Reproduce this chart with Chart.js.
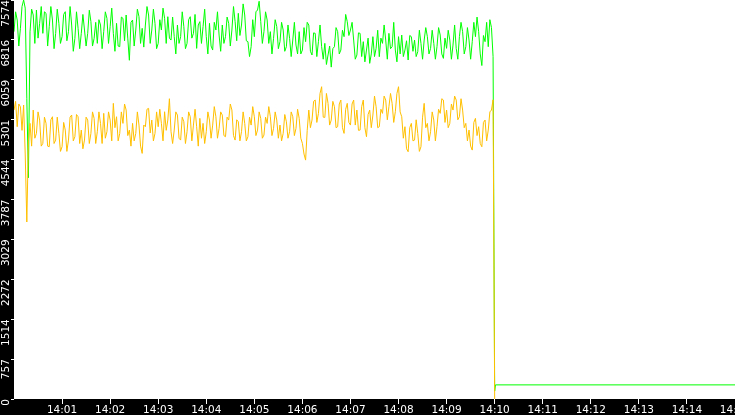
<!DOCTYPE html>
<html>
<head>
<meta charset="utf-8">
<script src="https://cdn.jsdelivr.net/npm/chart.js@4.4.1/dist/chart.umd.min.js"></script>
<style>
  html, body { margin: 0; padding: 0; background: #000; }
  canvas { display: block; }
</style>
</head>
<body>
<canvas id="rateChart" width="735" height="415"></canvas>
<script>
// seconds after 14:00:00, one sample every 2 s
const sampleStep = 2;

const greenValues = [
  6973, 7350, 7194, 6700, 7036, 7450, 7574, 7420, 5700, 4200,
  6970, 7400, 7289, 6750, 7384, 6850, 7131, 7450, 6941, 7350,
  7321, 6700, 7068, 7450, 7194, 6650, 6941, 7400, 7131, 6750,
  6878, 7300, 7352, 6800, 6973, 7450, 7099, 6600, 6846, 7350,
  7036, 6650, 6941, 7300, 7004, 6700, 6941, 7380, 7163, 6700,
  6846, 7150, 6751, 7200, 7099, 6650, 6973, 7350, 7226, 6750,
  7068, 7420, 6941, 6600, 7131, 6700, 6688, 7250, 7226, 6800,
  7289, 6850, 6430, 7150, 7194, 6700, 7004, 7400, 7257, 6750,
  7036, 6680, 7099, 7450, 7289, 6750, 7004, 7400, 7131, 6650,
  6751, 7200, 7004, 7420, 7226, 6750, 7257, 6850, 6814, 7250,
  6878, 6550, 7099, 6750, 6878, 7350, 7068, 6650, 6751, 7200,
  7257, 6850, 6941, 7300, 6656, 7100, 7163, 6750, 7068, 7400,
  6878, 6550, 7131, 6700, 6624, 7150, 7004, 7350, 6909, 6600,
  7099, 6750, 6878, 7250, 7131, 6700, 7004, 7450, 7163, 6800,
  7321, 6900, 7099, 7500, 7289, 6800, 6783, 6500, 6688, 7200,
  6878, 7350, 7384, 7550, 7163, 6750, 6973, 7350, 7194, 6750,
  6973, 6550, 6846, 7200, 7068, 6650, 6783, 7150, 7004, 6600,
  6688, 7100, 6846, 6500, 6814, 7150, 6719, 6550, 6973, 6550,
  6624, 7050, 6783, 7150, 7099, 6600, 6530, 6950, 6941, 6500,
  6783, 7100, 6688, 6450, 6751, 6350, 6530, 6700, 6300, 6650,
  6688, 7050, 6973, 6550, 6624, 7000, 6878, 7300, 7163, 6900,
  7004, 7150, 6814, 6450, 6530, 6950, 6941, 6500, 6783, 6400,
  6624, 6850, 6371, 6550, 6878, 6500, 6656, 7000, 6498, 6850,
  6751, 7100, 6814, 6450, 6941, 6650, 6688, 7150, 6624, 6400,
  6878, 6550, 6909, 6500, 6624, 6800, 6435, 6900, 6878, 6600,
  6814, 6500, 6593, 7000, 6751, 6450, 6814, 7050, 6878, 6550,
  6656, 7000, 6751, 6450, 6688, 7050, 6909, 6550, 6466, 6850,
  6656, 7000, 6814, 6450, 6719, 7100, 6656, 6450, 6878, 7150,
  6973, 6550, 6688, 7050, 6814, 6450, 6783, 7150, 6878, 7250,
  6973, 6550, 6330, 6900, 6783, 7150, 6688, 7200, 7050, 6500
];

const orangeValues = [
  5485, 5650, 5169, 5600, 5548, 5100, 5580, 4650, 3360, 4900,
  5232, 4800, 5485, 4950, 5042, 5450, 5295, 4800, 4852, 5350,
  5232, 4800, 4789, 5300, 5358, 4850, 4915, 5350, 5042, 4700,
  4789, 5250, 5105, 4700, 4915, 5350, 5390, 4900, 4979, 5400,
  5358, 4850, 5105, 4750, 4915, 5350, 5295, 4850, 5042, 5450,
  5327, 4850, 5074, 5450, 5232, 4850, 5422, 4950, 5074, 5450,
  5295, 4900, 5612, 5150, 5358, 4900, 5042, 5450, 5232, 5600,
  5485, 5000, 5105, 4800, 5232, 4900, 5042, 5450, 5200, 4800,
  4662, 5200, 5169, 5500, 5517, 5050, 5295, 4900, 5042, 5450,
  5169, 5500, 5232, 4900, 5453, 5100, 5295, 5700, 5074, 4850,
  5105, 5450, 5390, 4950, 4915, 5350, 5263, 4850, 5074, 5450,
  5358, 4900, 5200, 5500, 5169, 4800, 5327, 4950, 5232, 4850,
  5074, 5450, 5295, 4950, 5200, 5550, 5358, 4950, 5137, 5450,
  5390, 5000, 4979, 5350, 5295, 5600, 5485, 5000, 4915, 5300,
  5263, 4900, 5074, 5450, 5232, 4900, 4979, 5350, 5200, 5550,
  5358, 5000, 5105, 5450, 5327, 4950, 5010, 5350, 5232, 5550,
  5358, 5000, 5137, 5450, 5295, 4950, 5200, 4900, 5042, 5400,
  5263, 4950, 5074, 5450, 5358, 5000, 5137, 5500, 5327, 4950,
  4852, 4650, 4535, 5100, 5485, 5150, 5295, 5650, 5675, 5250,
  5422, 5800, 5928, 5350, 5345, 5800, 5612, 5200, 5295, 5650,
  5548, 5150, 5169, 5600, 5675, 5150, 5042, 5500, 5612, 5250,
  5200, 5600, 5675, 5200, 5485, 5100, 5105, 5550, 5675, 5150,
  4979, 5400, 5485, 5150, 5390, 5750, 5548, 5150, 5169, 5500,
  5422, 5750, 5675, 5300, 5548, 5800, 5612, 5250, 5453, 5800,
  5928, 5450, 5358, 4950, 5169, 4750, 4694, 5150, 5232, 4900,
  4915, 5300, 5042, 4700, 4789, 5350, 5612, 5150, 5232, 4900,
  5074, 5450, 5295, 4900, 5169, 5500, 5422, 5700, 5675, 5250,
  5485, 5150, 5232, 5600, 5485, 5750, 5675, 5300, 5358, 5700,
  5485, 5150, 5232, 4900, 5105, 4800, 4725, 5250, 5327, 5000,
  5169, 4850, 4789, 5250, 5295, 4900, 5105, 5450, 5485, 5680
];

// the drop at 14:10 and what follows
const greenTailSeconds = [600, 601, 900];
const greenTailValues = [150, 268, 268];
const orangeTailSeconds = [600];
const orangeTailValues = [0];

const xTickSeconds = [60, 120, 180, 240, 300, 360, 420, 480, 540, 600, 660, 720, 780, 840, 900];
const xTickLabels = ['14:01', '14:02', '14:03', '14:04', '14:05', '14:06', '14:07', '14:08',
                     '14:09', '14:10', '14:11', '14:12', '14:13', '14:14', '14:15'];
const yTickValues = [0, 757.4, 1514.8, 2272.2, 3029.6, 3787, 4544.4, 5301.8, 6059.2, 6816.6, 7574];
const yTickLabels = ['0', '757', '1514', '2272', '3029', '3787', '4544', '5301', '6059', '6816', '7574'];

function toPoints(values, seconds) {
  return values.map((v, i) => ({ x: seconds ? seconds[i] : i * sampleStep, y: v }));
}

// black frame, white plot area
const frame = {
  id: 'frame',
  beforeDraw(chart) {
    const { ctx, chartArea } = chart;
    ctx.save();
    ctx.fillStyle = '#000';
    ctx.fillRect(0, 0, chart.width, chart.height);
    ctx.fillStyle = '#fff';
    ctx.fillRect(chartArea.left, chartArea.top, chartArea.right - chartArea.left, chartArea.bottom - chartArea.top);
    ctx.restore();
  }
};

const ctx = document.getElementById('rateChart').getContext('2d');
new Chart(ctx, {
  type: 'line',
  data: {
    datasets: [
      {
        label: 'orange',
        data: toPoints(orangeValues).concat(toPoints(orangeTailValues, orangeTailSeconds)),
        borderColor: '#ffc000',
        borderWidth: 1,
        pointRadius: 0,
        tension: 0
      },
      {
        label: 'green',
        data: toPoints(greenValues).concat(toPoints(greenTailValues, greenTailSeconds)),
        borderColor: '#00ff00',
        borderWidth: 1,
        pointRadius: 0,
        tension: 0
      }
    ]
  },
  options: {
    responsive: false,
    animation: false,
    devicePixelRatio: 1,
    parsing: false,
    layout: { padding: 0 },
    plugins: {
      legend: { display: false },
      tooltip: { enabled: false }
    },
    scales: {
      x: {
        type: 'linear',
        min: 0,
        max: 900,
        afterBuildTicks: s => { s.ticks = xTickSeconds.map(v => ({ value: v })); },
        afterFit: s => { s.height = 16; s.paddingLeft = 0; s.paddingRight = 0; },
        grid: { drawOnChartArea: false, drawTicks: true, tickLength: 5, color: '#fff' },
        border: { display: false },
        ticks: {
          autoSkip: false,
          maxRotation: 0,
          padding: 0,
          color: '#fff',
          font: { family: 'DejaVu Sans', size: 10.5 },
          callback: (v, i) => xTickLabels[i]
        }
      },
      y: {
        type: 'linear',
        min: 0,
        max: 7574,
        afterBuildTicks: s => { s.ticks = yTickValues.map(v => ({ value: v })); },
        afterFit: s => { s.width = 14; s.paddingTop = 0; s.paddingBottom = 0; },
        grid: { drawOnChartArea: false, drawTicks: true, tickLength: 3, color: '#fff' },
        border: { display: false },
        ticks: {
          autoSkip: false,
          minRotation: 90,
          maxRotation: 90,
          padding: 5,
          color: '#fff',
          font: { family: 'DejaVu Sans', size: 10.5 },
          callback: (v, i) => yTickLabels[i]
        }
      }
    }
  },
  plugins: [frame]
});
</script>
</body>
</html>
